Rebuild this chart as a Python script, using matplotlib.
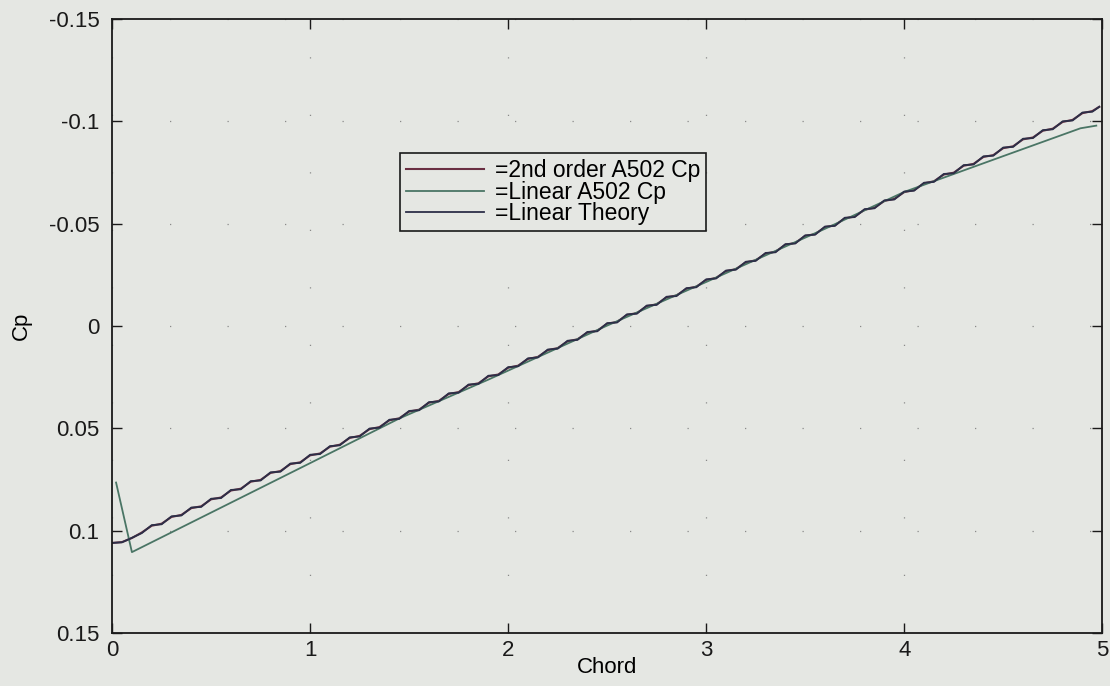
import numpy as np
import matplotlib
matplotlib.use("Agg")
import matplotlib.pyplot as plt
from matplotlib.ticker import FixedLocator, FuncFormatter

plt.rcParams['font.family'] = ['Liberation Sans', 'DejaVu Sans']

# chord stations of the panel solutions (last one sits just ahead of the trailing edge)
chord_panels = np.append(np.arange(0, 4.96, 0.05), 4.985)

cp_second_order = [
    0.1060, 0.1056, 0.1036, 0.1009, 0.0976, 0.0966, 0.0933, 0.0923, 0.0890, 0.0881,
    0.0847, 0.0838, 0.0804, 0.0795, 0.0761, 0.0752, 0.0718, 0.0709, 0.0675, 0.0666,
    0.0632, 0.0623, 0.0590, 0.0580, 0.0547, 0.0537, 0.0504, 0.0494, 0.0461, 0.0451,
    0.0418, 0.0409, 0.0375, 0.0366, 0.0332, 0.0323, 0.0289, 0.0280, 0.0246, 0.0237,
    0.0204, 0.0194, 0.0161, 0.0151, 0.0118, 0.0108, 0.0075, 0.0065, 0.0032, 0.0023,
    -0.0011, -0.0020, -0.0054, -0.0063, -0.0097, -0.0106, -0.0140, -0.0149, -0.0182, -0.0192,
    -0.0225, -0.0235, -0.0268, -0.0278, -0.0311, -0.0321, -0.0354, -0.0363, -0.0397, -0.0406,
    -0.0440, -0.0449, -0.0483, -0.0492, -0.0526, -0.0535, -0.0568, -0.0578, -0.0611, -0.0621,
    -0.0654, -0.0664, -0.0697, -0.0707, -0.0740, -0.0749, -0.0783, -0.0792, -0.0826, -0.0835,
    -0.0869, -0.0878, -0.0912, -0.0921, -0.0954, -0.0964, -0.0997, -0.1007, -0.1040, -0.1050,
    -0.1071,
]

cp_linear_theory = [
    0.1060, 0.1057, 0.1035, 0.1012, 0.0973, 0.0969, 0.0930, 0.0926, 0.0887, 0.0884,
    0.0844, 0.0841, 0.0801, 0.0798, 0.0758, 0.0755, 0.0715, 0.0712, 0.0672, 0.0669,
    0.0629, 0.0626, 0.0587, 0.0583, 0.0544, 0.0540, 0.0501, 0.0497, 0.0458, 0.0454,
    0.0415, 0.0412, 0.0372, 0.0369, 0.0329, 0.0326, 0.0286, 0.0283, 0.0243, 0.0240,
    0.0201, 0.0197, 0.0158, 0.0154, 0.0115, 0.0111, 0.0072, 0.0068, 0.0029, 0.0026,
    -0.0014, -0.0017, -0.0057, -0.0060, -0.0100, -0.0103, -0.0143, -0.0146, -0.0185, -0.0189,
    -0.0228, -0.0232, -0.0271, -0.0275, -0.0314, -0.0318, -0.0357, -0.0360, -0.0400, -0.0403,
    -0.0443, -0.0446, -0.0486, -0.0489, -0.0529, -0.0532, -0.0571, -0.0575, -0.0614, -0.0618,
    -0.0657, -0.0661, -0.0700, -0.0704, -0.0743, -0.0746, -0.0786, -0.0789, -0.0829, -0.0832,
    -0.0872, -0.0875, -0.0915, -0.0918, -0.0957, -0.0961, -0.1000, -0.1004, -0.1043, -0.1047,
    -0.1071,
]

chord_a502 = [0.02, 0.10, 1.00, 1.45, 1.90, 2.50, 3.00, 3.60, 4.00, 4.50, 4.89, 4.97]
cp_linear_a502 = [0.0765, 0.1105, 0.0670, 0.0452, 0.0262, -0.0002, -0.0215, -0.0475,
                  -0.0655, -0.0830, -0.0966, -0.0979]

x_ticks = [0, 1, 2, 3, 4, 5]
y_ticks = [-0.15, -0.1, -0.05, 0, 0.05, 0.1, 0.15]

bg = '#e5e7e3'
fig = plt.figure(figsize=(11.1, 6.86), dpi=100, facecolor=bg)
ax = fig.add_axes([0.101, 0.0773, 0.892, 0.895], facecolor=bg)

ax.plot(chord_panels, cp_second_order, color='#6a2f42', lw=1.5, label='=2nd order A502 Cp')
ax.plot(chord_a502, cp_linear_a502, color='#4a7565', lw=1.3, label='=Linear A502 Cp')
ax.plot(chord_panels, cp_linear_theory, color='#2c2f48', lw=1.3, label='=Linear Theory')

ax.set_xlim(0, 5)
ax.set_ylim(0.15, -0.15)   # Cp axis runs negative-up
ax.xaxis.set_major_locator(FixedLocator(x_ticks))
ax.yaxis.set_major_locator(FixedLocator(y_ticks))
ax.yaxis.set_major_formatter(FuncFormatter(lambda v, p: '%g' % v))
ax.tick_params(direction='in', length=7, width=1, labelsize=16, top=True, right=True,
               colors='#1a1a1a')
ax.tick_params(axis='y', pad=9)
ax.tick_params(axis='x', pad=5)
for s in ax.spines.values():
    s.set_linewidth(1.3)
    s.set_color('#1a1a1a')

ax.grid(True, linestyle=(0, (1, 45)), color='#8a8a8a', linewidth=0.9)

ax.set_xlabel('Chord', fontsize=16, labelpad=-3)
ax.set_ylabel('Cp', fontsize=16, labelpad=12)

leg = ax.legend(loc='upper left', bbox_to_anchor=(400 / 1110, 1 - 153 / 686),
                bbox_transform=fig.transFigure, fontsize=16.5, frameon=True,
                fancybox=False, framealpha=1, facecolor=bg, edgecolor='#1a1a1a',
                handlelength=3.4, handletextpad=0.5, labelspacing=-0.05,
                borderpad=0.25, borderaxespad=0)
leg.get_frame().set_linewidth(1.2)

fig.savefig('out.png', dpi=100, facecolor=bg)
